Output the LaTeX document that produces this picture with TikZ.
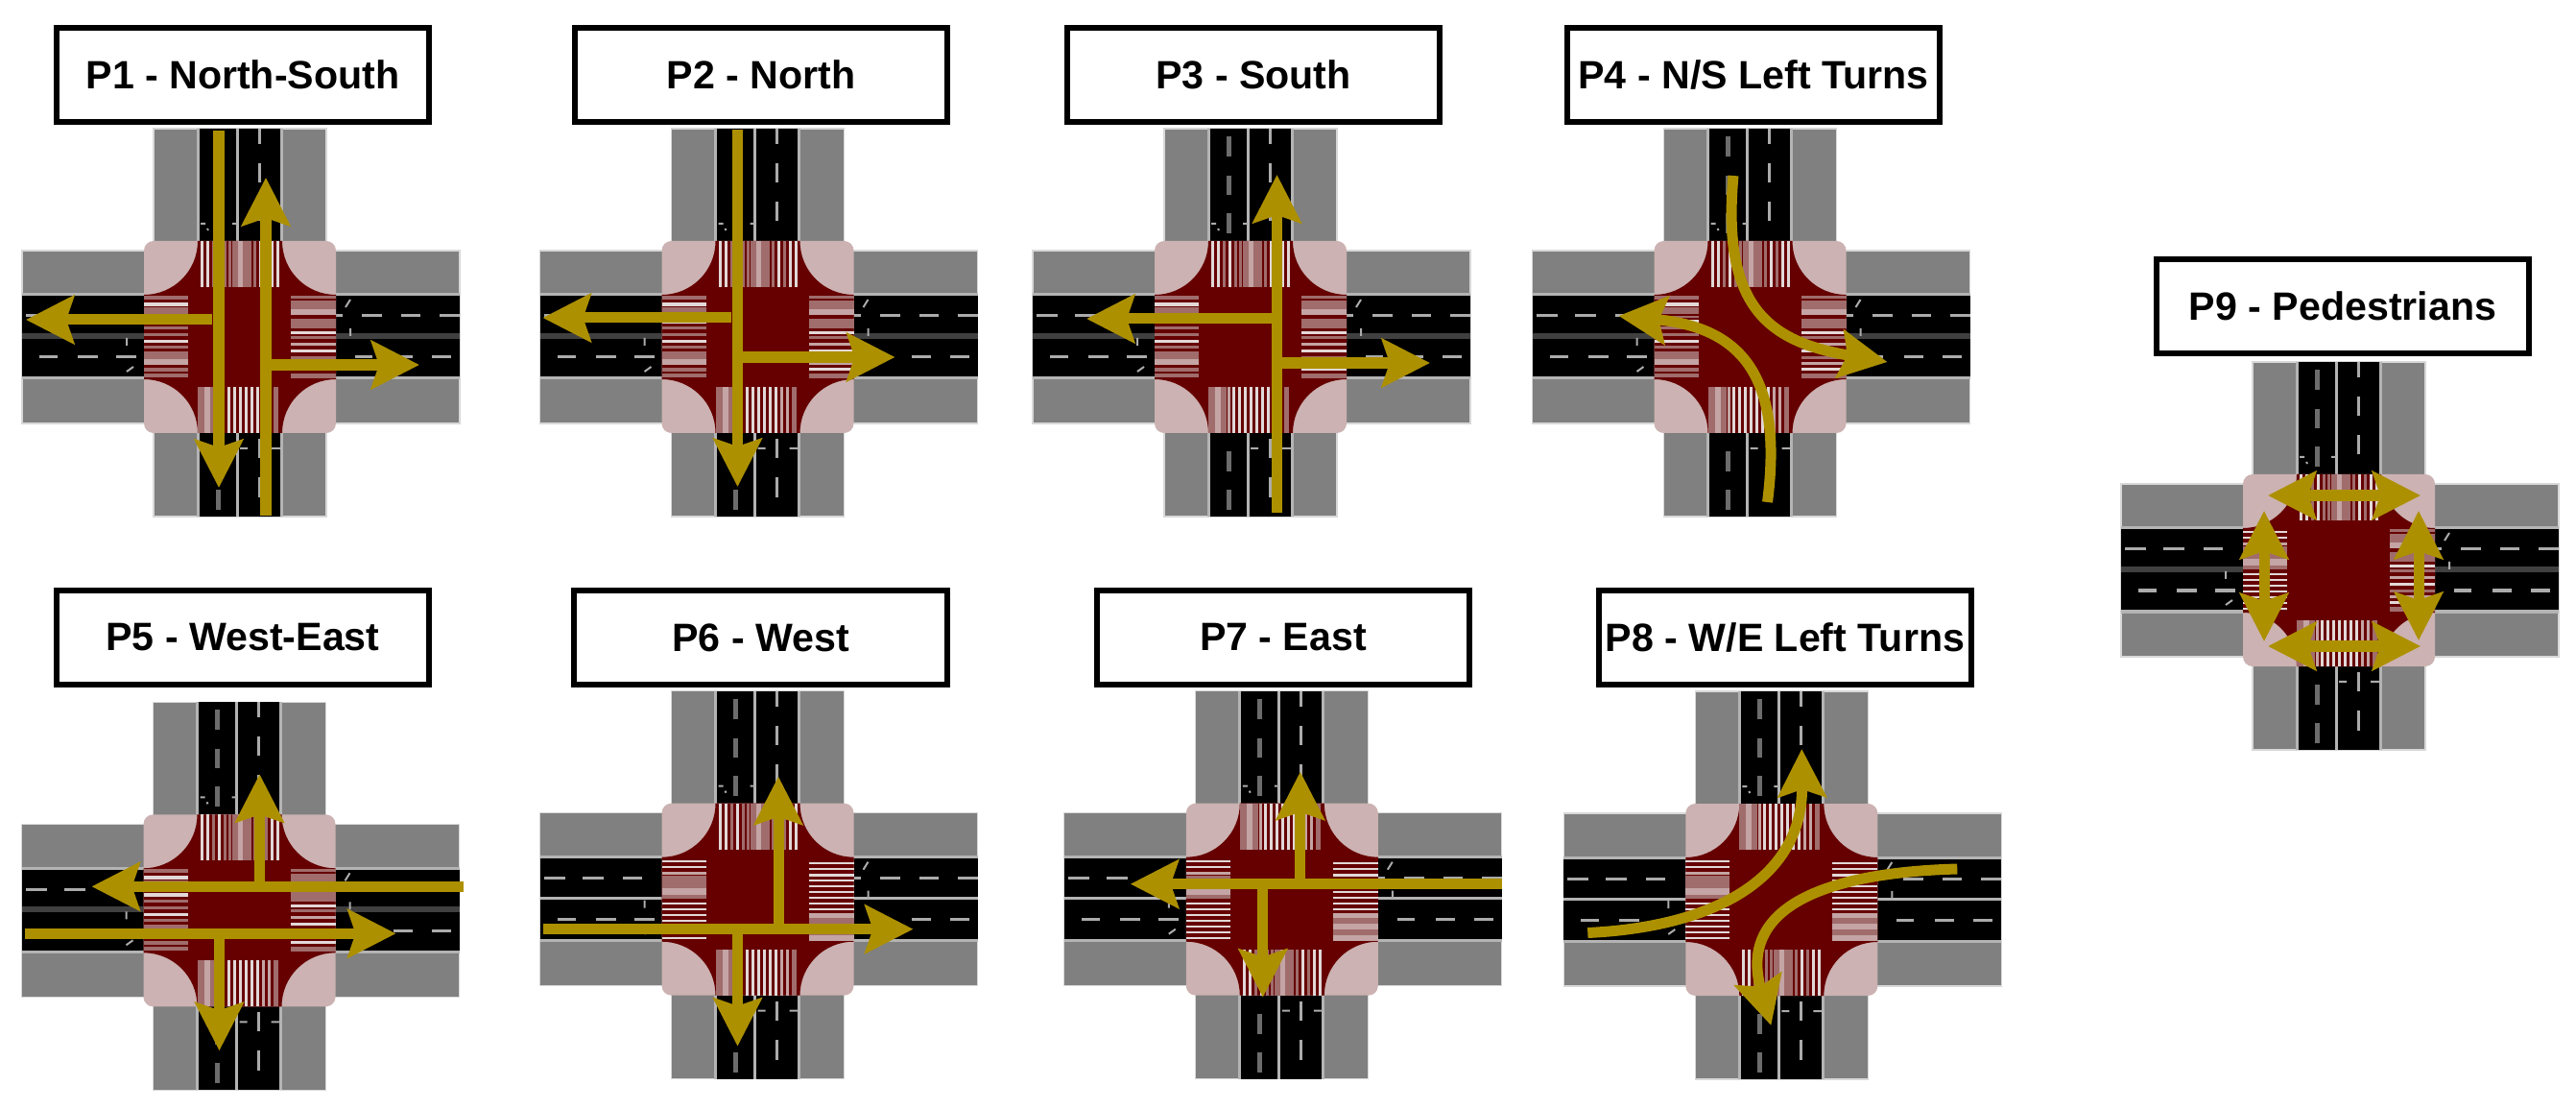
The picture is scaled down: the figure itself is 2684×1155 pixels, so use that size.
\documentclass[tikz,border=0pt]{standalone}
\usepackage{fontspec}
\setmainfont{Liberation Sans}
\usetikzlibrary{arrows.meta}
\definecolor{swalk}{HTML}{808080}
\definecolor{halo}{HTML}{D8D8D8}
\definecolor{edgeln}{HTML}{B4B4B4}
\definecolor{medark}{HTML}{404040}
\definecolor{dashlt}{HTML}{ABABAB}
\definecolor{dashdk}{HTML}{6C6C6C}
\definecolor{corner}{HTML}{CCB2B2}
\definecolor{junct}{HTML}{660000}
\definecolor{gold}{HTML}{AD9000}
\definecolor{xwht}{HTML}{E2D8D8}
\definecolor{xpal}{HTML}{C4A4A4}
\definecolor{xmid}{HTML}{A06C6C}
\def\patA{-41/3/xwht,-35/3/xwht,-29/3/xmid,-23/3/xwht,-17/3/xmid,-12/3/xmid,-8/6/xmid,-2/5/xpal,3/6/xmid,9/3/xmid,14/3/xmid,20/3/xwht,26/3/xmid,32/3/xwht,38/3/xwht}
\def\patB{-44/7/xmid,-37/6/xpal,-31/6/xmid,-24/3/xpal,-19/3/xwht,-13/3/xwht,-7/3/xwht,-1/3/xwht,5/3/xwht,11/3/xwht,17/3/xwht,23/3/xpal,29/3/xpal,35/5/xmid}
\def\patC{-43/4/xmid,-36/4/xwht,-31/7/xmid,-22/2/xmid,-18/4/xwht,-11/3/xmid,-4/3/xmid,3/3/xwht,9/3/xmid,15/8/xmid,23/6/xpal,32/4/xmid,38/4/xmid}
\def\patD{-43/3/xmid,-38/9/xmid,-29/6/xpal,-19/10/xmid,-6/3/xwht,-1/3/xmid,6/3/xpal,13/3/xwht,20/3/xmid,26/3/xpal,32/3/xwht,38/5/xmid}
\def\patE{-41/2/xwht,-35/2/xwht,-29/3/xpal,-25/6/xmid,-19/7/xmid,-12/7/xpal,-5/4/xmid,3/2/xwht,9/2/xwht,15/2/xwht,21/2/xwht,27/2/xwht,33/2/xwht,39/2/xwht}
\def\patF{-39/2/xwht,-33/2/xwht,-27/3/xwht,-21/2/xwht,-15/2/xwht,-9/2/xwht,-3/2/xwht,3/2/xwht,9/2/xwht,14/5/xpal,19/6/xmid,25/6/xpal,31/6/xmid,37/6/xpal}
\tikzset{
  titlebox/.style={draw=black,fill=white,line width=0.06cm,minimum width=3.88cm,minimum height=0.98cm,inner sep=0pt,
    font=\fontsize{11.7}{14}\selectfont\bfseries},
  moveline/.style={draw=gold,line width=0.11cm,-{Stealth[length=0.5cm,width=0.5cm,inset=0.08cm]}},
  twoway/.style={draw=gold,line width=0.11cm,{Stealth[length=0.5cm,width=0.5cm,inset=0.08cm]}-{Stealth[length=0.5cm,width=0.5cm,inset=0.08cm]}},
  dashh/.style={draw=dashlt,line width=0.03cm},
  dashl/.style={draw=dashdk,line width=0.05cm},
  dashr/.style={draw=dashlt,line width=0.03cm},
  speck/.style={draw=dashlt,line width=0.02cm},
  meddark/.style={draw=medark,line width=0.06cm},
  medlight/.style={draw=edgeln,line width=0.03cm}
}
% cx cy top bottom left right medianstyle
\newcommand{\xcross}[7]{%
\begin{scope}[shift={(#1,#2)}]
  \fill[swalk,draw=halo,line width=0.012cm] (-227,-90) rectangle (229,90);
  \fill[swalk,draw=halo,line width=0.012cm] (-90,-217) rectangle (90,187);
  \fill[black] (-227,-43) rectangle (229,42);
  \draw[edgeln,line width=0.03cm] (-227,-44) -- (229,-44) (-227,43) -- (229,43);
  \fill[black] (-43,-217) rectangle (42,187);
  \draw[edgeln,line width=0.03cm] (-44,-217) -- (-44,-100) (43,-217) -- (43,-100) (-44,100) -- (-44,187) (43,100) -- (43,187);
  \draw[#7] (-227,-1) -- (229,-1);
  \draw[edgeln,line width=0.03cm] (-3,-217) -- (-3,187);
  \foreach \da/\db in {-223/-201,-183/-161,-141/-121,100/107,127/148,168/188,208/229}
    \draw[dashh] (\da,-22) -- (\db,-22);
  \foreach \da/\db in {-209/-190,-169/-148,-129/-108,120/138,160/180,200/220}
    \draw[dashh] (\da,21) -- (\db,21);
  \foreach \da/\db in {-209/-188,-168/-148,-129/-108,119/140,159/180}
    \draw[dashl] (-23,\da) -- (-23,\db);
  \foreach \da/\db in {-217/-201,-181/-161,-141/-121,106/126,146/167}
    \draw[dashr] (20,\da) -- (20,\db);
  \draw[speck] (-41,-118) -- (-36,-118) (-34,-113) -- (-33,-111) (-8,-118) -- (-3,-118)
    (115,-39) -- (110,-31) (115,-9) -- (115,-1) (-118,1) -- (-118,9) (-118,36) -- (-111,31)
    (0,116) -- (8,116) (33,116) -- (42,116);
  \fill[corner] (-100,-100) [rounded corners=0.1cm] rectangle (100,100);
  \fill[junct] (-44,-100) .. controls (-44,-69) and (-69,-44) .. (-100,-44)
    -- (-100,44) .. controls (-69,44) and (-44,69) .. (-44,100)
    -- (44,100) .. controls (44,69) and (69,44) .. (100,44)
    -- (100,-44) .. controls (69,-44) and (44,-69) .. (44,-100) -- cycle;
  \foreach \su/\sw/\sc in #3 \fill[fill=\sc] (\su,-100) rectangle ++(\sw,48);
  \foreach \su/\sw/\sc in #4 \fill[fill=\sc] (\su,52) rectangle ++(\sw,48);
  \foreach \su/\sw/\sc in #5 \fill[fill=\sc] (-100,\su) rectangle ++(46,\sw);
  \foreach \su/\sw/\sc in #6 \fill[fill=\sc] (53,\su) rectangle ++(47,\sw);
\end{scope}}
\begin{document}
\begin{tikzpicture}[x=0.01cm,y=-0.01cm]
\useasboundingbox (0,0) rectangle (2684,1155);
\fill[white] (0,0) rectangle (2684,1155);
% intersections
\xcross{250}{351}{\patA}{\patB}{\patC}{\patD}{meddark}
\xcross{789.5}{351}{\patA}{\patB}{\patC}{\patD}{meddark}
\xcross{1303}{351}{\patA}{\patB}{\patC}{\patD}{meddark}
\xcross{1823.5}{351}{\patA}{\patB}{\patC}{\patD}{meddark}
\xcross{249.5}{948.3}{\patA}{\patB}{\patC}{\patD}{meddark}
\xcross{789.5}{936.7}{\patA}{\patB}{\patE}{\patF}{medlight}
\xcross{1335.8}{936.7}{\patB}{\patA}{\patE}{\patF}{medlight}
\xcross{1856.3}{937}{\patB}{\patA}{\patE}{\patF}{medlight}
\xcross{2437}{594}{\patA}{\patB}{\patE}{\patD}{meddark}
% titles
\node[titlebox] (t1) at (253,78) {P1 - North-South};
\node[titlebox] (t2) at (793,78) {P2 - North};
\node[titlebox] (t3) at (1306,78) {P3 - South};
\node[titlebox] (t4) at (1827,78) {P4 - N/S Left Turns};
\node[titlebox] (t5) at (253,664) {P5 - West-East};
\node[titlebox] (t6) at (792.5,664) {P6 - West};
\node[titlebox] (t7) at (1337,664) {P7 - East};
\node[titlebox] (t8) at (1860,664) {P8 - W/E Left Turns};
\node[titlebox] (t9) at (2441,319) {P9 - Pedestrians};
% P1
\begin{scope}[shift={(250,351)}]
  \draw[moveline] (-29,-18) -- (-223,-18);
  \draw[moveline] (32,29) -- (187,29);
  \draw[moveline] (-22,-215) -- (-22,157);
  \draw[moveline] (27,186) -- (27,-166);
\end{scope}
% P2
\begin{scope}[shift={(789.5,351)}]
  \draw[moveline] (-28,-20) -- (-224,-20);
  \draw[moveline] (-17,21) -- (143,21);
  \draw[moveline] (-21,-216) -- (-21,156);
\end{scope}
% P3
\begin{scope}[shift={(1303,351)}]
  \draw[moveline] (23,-19) -- (-171,-19);
  \draw[moveline] (32,27) -- (187,27);
  \draw[moveline] (27.5,183) -- (27.5,-169);
\end{scope}
% P4
\begin{scope}[shift={(1823.5,351)}]
  \draw[moveline] (-17.5,-168) .. controls (-30,-30) and (20,5) .. (143,26);
  \draw[moveline] (18,172) .. controls (35,40) and (-10,-10) .. (-137,-22);
\end{scope}
% P5
\begin{scope}[shift={(249.5,948.3)}]
  \draw[moveline] (21,-25) -- (21,-142);
  \draw[moveline] (-21,24) -- (-21,146);
  \draw[moveline] (233,-25) -- (-154,-25);
  \draw[moveline] (-223.5,24) -- (163,24);
\end{scope}
% P6
\begin{scope}[shift={(789.5,936.7)}]
  \draw[moveline] (21.5,31) -- (21.5,-128);
  \draw[moveline] (-21,31) -- (-21,153);
  \draw[moveline] (-223.5,31) -- (162,31);
\end{scope}
% P7
\begin{scope}[shift={(1335.8,936.7)}]
  \draw[moveline] (19,-16) -- (19,-133);
  \draw[moveline] (-20,-16) -- (-20,102);
  \draw[moveline] (229,-16) -- (-158,-16);
\end{scope}
% P8
\begin{scope}[shift={(1856.3,937)}]
  \draw[moveline] (-202,34.5) .. controls (-65,28) and (22,-25) .. (21,-157);
  \draw[moveline] (183,-32) .. controls (40,-28) and (-45,10) .. (-11,131);
\end{scope}
% P9
\begin{scope}[shift={(2437,594)}]
  \draw[twoway] (-74,-78) -- (85,-78);
  \draw[twoway] (-74,79) -- (85,79);
  \draw[twoway] (-78,-62) -- (-78,74);
  \draw[twoway] (83,-62) -- (83,73);
\end{scope}
\end{tikzpicture}
\end{document}
